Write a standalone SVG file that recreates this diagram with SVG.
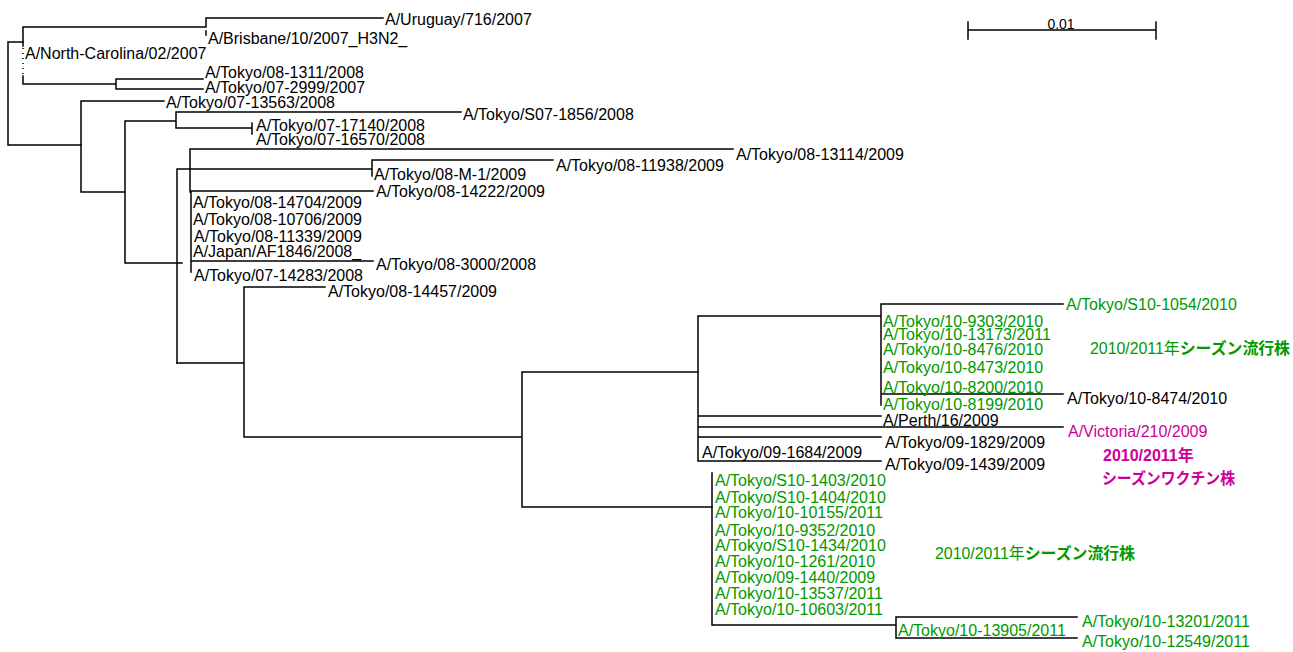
<svg xmlns="http://www.w3.org/2000/svg" width="1293" height="652" viewBox="0 0 1293 652">
<style>
.b{stroke:#000;stroke-width:1.5;fill:none;stroke-linecap:square}
.d{stroke:#000;stroke-width:1.5;fill:none;stroke-dasharray:1 4}
text{font-family:"Liberation Sans",Arial,"Noto Sans CJK JP",sans-serif;font-size:16px;fill:#000}
.g{fill:#009900}
.m{fill:#cc0099}
.jp{font-family:"Liberation Sans","Noto Sans CJK JP",sans-serif}
</style>
<rect width="1293" height="652" fill="#fff"/>
<g id="branches">
<path class="b" d="M8 42V145M8 42H23M8 145H81"/>
<path class="b" d="M23 27V46M23 76V84M23 27H206M206 18V27M206 31V35M206 18H383M23 84H116M116 79V89M116 79H203M116 89H203"/>
<path class="d" d="M23 48V75"/>
<path class="b" d="M81 101V192M81 101H164M81 192H125M125 121V263M125 121H176M176 112V128M176 112H461M176 128H252M252 123V134M125 263H182"/>
<path class="b" d="M177 169V363M177 169H372M190 149V192M190 149H733M372 160V176M372 160H553M191 192V272M191 191H373M191 261H373"/>
<path class="b" d="M177 363H244M244 287V437M244 287H325M244 437H522M522 372V507M522 372H698M522 507H712"/>
<path class="b" d="M698 316V461M698 316H881M881 304V405M881 304H1063M881 394H1063M698 416H881M698 427H1063M698 437H881M698 461H881"/>
<path class="b" d="M712 473V625M712 625H896M896 617V638M896 617H1077M896 638H1077"/>
</g>
<g id="scalebar">
<path class="b" d="M968 30H1156M968 22V39M1156 22V39"/>
<text x="1061" y="29" text-anchor="middle" style="font-size:14px">0.01</text>
</g>
<g id="n-uruguay"><text x="385" y="25">A/Uruguay/716/2007</text></g>
<g id="n-brisbane"><text x="208" y="44">A/Brisbane/10/2007_H3N2_</text></g>
<g id="n-northcarolina"><text x="25" y="59">A/North-Carolina/02/2007</text></g>
<g id="n-08-1311"><text x="205" y="78">A/Tokyo/08-1311/2008</text></g>
<g id="n-07-2999"><text x="205" y="93">A/Tokyo/07-2999/2007</text></g>
<g id="n-07-13563"><text x="166" y="108">A/Tokyo/07-13563/2008</text></g>
<g id="n-s07-1856"><text x="463" y="120">A/Tokyo/S07-1856/2008</text></g>
<g id="n-07-17140"><text x="256" y="131">A/Tokyo/07-17140/2008</text></g>
<g id="n-07-16570"><text x="256" y="145">A/Tokyo/07-16570/2008</text></g>
<g id="n-08-13114"><text x="736" y="160">A/Tokyo/08-13114/2009</text></g>
<g id="n-08-11938"><text x="556" y="171">A/Tokyo/08-11938/2009</text></g>
<g id="n-08-m-1"><text x="374" y="180">A/Tokyo/08-M-1/2009</text></g>
<g id="n-08-14222"><text x="376" y="197">A/Tokyo/08-14222/2009</text></g>
<g id="n-08-14704"><text x="193" y="208">A/Tokyo/08-14704/2009</text></g>
<g id="n-08-10706"><text x="193" y="225">A/Tokyo/08-10706/2009</text></g>
<g id="n-08-11339"><text x="194" y="242">A/Tokyo/08-11339/2009</text></g>
<g id="n-japan"><text x="193" y="257">A/Japan/AF1846/2008_</text></g>
<g id="n-08-3000"><text x="376" y="270">A/Tokyo/08-3000/2008</text></g>
<g id="n-07-14283"><text x="194" y="281">A/Tokyo/07-14283/2008</text></g>
<g id="n-08-14457"><text x="328" y="297">A/Tokyo/08-14457/2009</text></g>
<g id="n-s10-1054"><text class="g" x="1066" y="310">A/Tokyo/S10-1054/2010</text></g>
<g id="n-10-9303"><text class="g" x="883" y="327">A/Tokyo/10-9303/2010</text></g>
<g id="n-10-13173"><text class="g" x="883" y="340">A/Tokyo/10-13173/2011</text></g>
<g id="n-10-8476"><text class="g" x="883" y="355">A/Tokyo/10-8476/2010</text></g>
<g id="n-10-8473"><text class="g" x="883" y="373">A/Tokyo/10-8473/2010</text></g>
<g id="n-10-8200"><text class="g" x="883" y="393">A/Tokyo/10-8200/2010</text></g>
<g id="n-10-8474"><text x="1067" y="404">A/Tokyo/10-8474/2010</text></g>
<g id="n-10-8199"><text class="g" x="883" y="410">A/Tokyo/10-8199/2010</text></g>
<g id="n-perth"><text x="883" y="426">A/Perth/16/2009</text></g>
<g id="n-victoria"><text class="m" x="1068" y="437">A/Victoria/210/2009</text></g>
<g id="n-09-1829"><text x="885" y="448">A/Tokyo/09-1829/2009</text></g>
<g id="n-09-1684"><text x="702" y="458">A/Tokyo/09-1684/2009</text></g>
<g id="n-09-1439"><text x="885" y="470">A/Tokyo/09-1439/2009</text></g>
<g id="n-s10-1403"><text class="g" x="715" y="486">A/Tokyo/S10-1403/2010</text></g>
<g id="n-s10-1404"><text class="g" x="715" y="503">A/Tokyo/S10-1404/2010</text></g>
<g id="n-10-10155"><text class="g" x="715" y="518">A/Tokyo/10-10155/2011</text></g>
<g id="n-10-9352"><text class="g" x="715" y="536">A/Tokyo/10-9352/2010</text></g>
<g id="n-s10-1434"><text class="g" x="715" y="551">A/Tokyo/S10-1434/2010</text></g>
<g id="n-10-1261"><text class="g" x="715" y="567">A/Tokyo/10-1261/2010</text></g>
<g id="n-09-1440"><text class="g" x="715" y="583">A/Tokyo/09-1440/2009</text></g>
<g id="n-10-13537"><text class="g" x="715" y="599">A/Tokyo/10-13537/2011</text></g>
<g id="n-10-10603"><text class="g" x="715" y="615">A/Tokyo/10-10603/2011</text></g>
<g id="n-10-13905"><text class="g" x="898" y="636">A/Tokyo/10-13905/2011</text></g>
<g id="n-10-13201"><text class="g" x="1082" y="627">A/Tokyo/10-13201/2011</text></g>
<g id="n-10-12549"><text class="g" x="1082" y="647">A/Tokyo/10-12549/2011</text></g>
<g id="note-epidemic-1"><text class="g jp" x="1090" y="354" textLength="200" lengthAdjust="spacingAndGlyphs">2010/2011年<tspan font-weight="bold">シーズン流行株</tspan></text></g>
<g id="note-vaccine"><text class="m jp" x="1103" y="461" font-weight="bold">2010/2011年</text><text class="m jp" x="1102" y="484" font-weight="bold" textLength="133" lengthAdjust="spacingAndGlyphs">シーズンワクチン株</text></g>
<g id="note-epidemic-2"><text class="g jp" x="935" y="559" textLength="200" lengthAdjust="spacingAndGlyphs">2010/2011年<tspan font-weight="bold">シーズン流行株</tspan></text></g>
</svg>
